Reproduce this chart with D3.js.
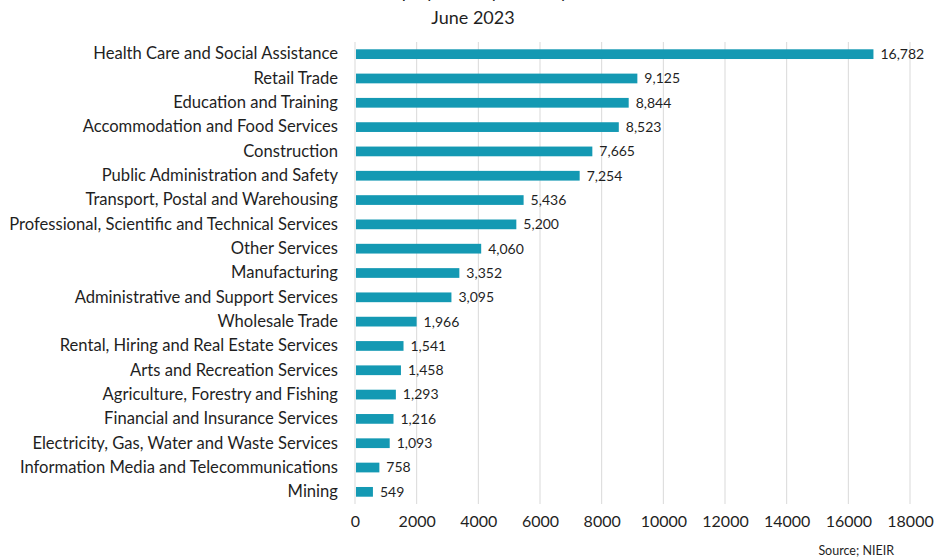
<!DOCTYPE html>
<html>
<head>
<meta charset="utf-8">
<script src="https://cdn.jsdelivr.net/npm/d3@7"></script>
<style>
  body { margin: 0; background: #fff; }
  svg { display: block; font-family: Lato, "Open Sans", sans-serif; }
</style>
</head>
<body>
<div id="chart"></div>
<script>
// chart data
const industries = [
  "Health Care and Social Assistance",
  "Retail Trade",
  "Education and Training",
  "Accommodation and Food Services",
  "Construction",
  "Public Administration and Safety",
  "Transport, Postal and Warehousing",
  "Professional, Scientific and Technical Services",
  "Other Services",
  "Manufacturing",
  "Administrative and Support Services",
  "Wholesale Trade",
  "Rental, Hiring and Real Estate Services",
  "Arts and Recreation Services",
  "Agriculture, Forestry and Fishing",
  "Financial and Insurance Services",
  "Electricity, Gas, Water and Waste Services",
  "Information Media and Telecommunications",
  "Mining",
];
const jobs = [16782, 9125, 8844, 8523, 7665, 7254, 5436, 5200, 4060, 3352, 3095, 1966, 1541, 1458, 1293, 1216, 1093, 758, 549];
const xTicks = [0, 2000, 4000, 6000, 8000, 10000, 12000, 14000, 16000, 18000];
const titleLines = ["Employment by Industry", "June 2023"];
const source = "Source; NIEIR";

const width = 935, height = 560;
const mLeft = 355, mRight = 910, mTop = 42, mBottom = 504;
const ink = "#1f1f1f";

const svg = d3.select("#chart").append("svg")
  .attr("width", width)
  .attr("height", height);

// scales
const x = d3.scaleLinear().domain([0, 18000]).range([mLeft, mRight]);
const y = d3.scaleBand().domain(industries).range([mTop, mBottom]).paddingInner(0.6).paddingOuter(0.3);

// gridlines
svg.append("g")
  .selectAll("line")
  .data(xTicks)
  .join("line")
  .attr("x1", (d) => x(d))
  .attr("x2", (d) => x(d))
  .attr("y1", mTop)
  .attr("y2", mBottom)
  .attr("stroke", "#d9d9d9")
  .attr("stroke-width", 1);

// x axis labels
const xAxis = d3.axisBottom(x).tickValues(xTicks).tickFormat(d3.format("d")).tickSize(0).tickPadding(0);
const gx = svg.append("g")
  .attr("transform", `translate(0, ${mBottom + 12})`)
  .call(xAxis);
gx.select(".domain").remove();
gx.selectAll("text")
  .attr("font-family", "Lato, sans-serif")
  .attr("font-size", 16)
  .attr("fill", ink);

// y axis labels
const yAxis = d3.axisLeft(y).tickSize(0).tickPadding(17);
const gy = svg.append("g")
  .attr("transform", `translate(${mLeft}, 0)`)
  .call(yAxis);
gy.select(".domain").remove();
gy.selectAll("text")
  .attr("font-family", "Lato, sans-serif")
  .attr("font-size", 16.6)
  .attr("fill", ink);

// bars
const data = industries.map((name, i) => ({ name: name, value: jobs[i] }));
svg.append("g")
  .selectAll("rect")
  .data(data)
  .join("rect")
  .attr("x", x(0) + 1)
  .attr("y", (d) => y(d.name))
  .attr("width", (d) => x(d.value) - x(0))
  .attr("height", y.bandwidth())
  .attr("fill", "#1499b3");

// value labels
svg.append("g")
  .selectAll("text")
  .data(data)
  .join("text")
  .attr("x", (d) => x(d.value) + 8)
  .attr("y", (d) => y(d.name) + y.bandwidth() / 2)
  .attr("dy", "0.35em")
  .attr("font-size", 14)
  .attr("fill", ink)
  .text((d) => d3.format(",")(d.value));

// title (first line runs off the top edge, as in the source image)
svg.append("text")
  .attr("x", 473)
  .attr("y", -2)
  .attr("text-anchor", "middle")
  .attr("font-size", 18)
  .attr("fill", ink)
  .text(titleLines[0]);
svg.append("text")
  .attr("x", 473)
  .attr("y", 24)
  .attr("text-anchor", "middle")
  .attr("font-size", 18)
  .attr("fill", ink)
  .text(titleLines[1]);

// source
svg.append("text")
  .attr("x", 894)
  .attr("y", 555)
  .attr("text-anchor", "end")
  .attr("font-size", 12.5)
  .attr("fill", ink)
  .text(source);
</script>
</body>
</html>
